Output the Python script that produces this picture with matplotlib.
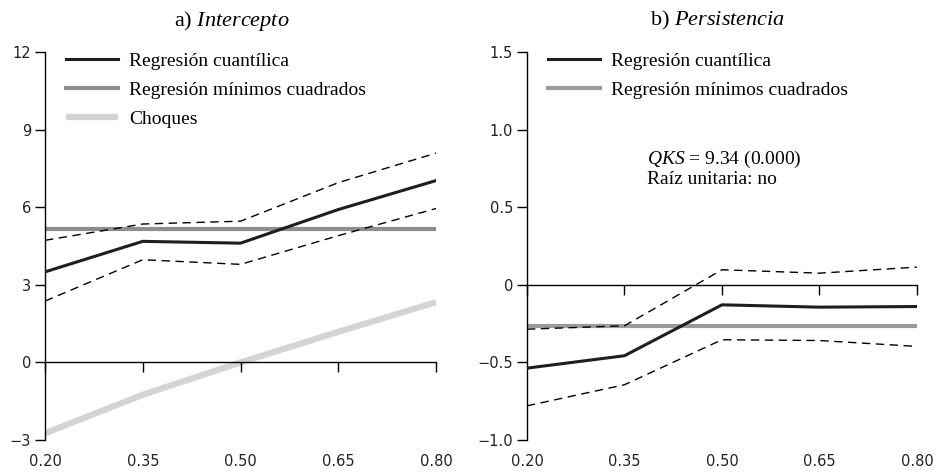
import numpy as np
import matplotlib.pyplot as plt

plt.rcParams['mathtext.fontset'] = 'custom'
plt.rcParams['mathtext.rm'] = 'Liberation Serif'
plt.rcParams['mathtext.it'] = 'Liberation Serif:italic'

# cuantiles
tau = [0.20, 0.35, 0.50, 0.65, 0.80]
tick_labels = ['0.20', '0.35', '0.50', '0.65', '0.80']

# a) Intercepto
int_qr = [3.50, 4.68, 4.61, 5.91, 7.03]
int_hi = [4.72, 5.35, 5.46, 6.95, 8.09]
int_lo = [2.37, 3.97, 3.79, 4.90, 5.95]
int_ols = 5.17
choques = [-2.74, -1.25, 0.0, 1.18, 2.33]

# b) Persistencia
per_qr = [-0.537, -0.457, -0.129, -0.144, -0.140]
per_hi = [-0.286, -0.264, 0.097, 0.075, 0.114]
per_lo = [-0.780, -0.644, -0.354, -0.359, -0.397]
per_ols = -0.268

fig = plt.figure(figsize=(9.4, 4.72), dpi=100)
ax1 = fig.add_axes([0.0479, 0.0678, 0.416, 0.822])
ax2 = fig.add_axes([0.5606, 0.0678, 0.4149, 0.822])

serif = 'Liberation Serif'
sans = 'DejaVu Sans'
dash = (0, (6, 4))


def style(ax, ylim, yticks, ylabels):
    ax.set_xlim(tau[0], tau[-1])
    ax.set_ylim(*ylim)
    ax.spines['top'].set_visible(False)
    ax.spines['right'].set_visible(False)
    ax.spines['bottom'].set_position(('data', 0))
    ax.spines['left'].set_linewidth(1.0)
    ax.spines['bottom'].set_linewidth(1.0)
    ax.set_xticks(tau)
    ax.tick_params(axis='x', direction='out', length=7, width=1, labelbottom=False)
    ax.set_yticks(yticks)
    ax.set_yticklabels(ylabels, fontfamily=sans, fontsize=10.5, color='#222222')
    ax.tick_params(axis='y', direction='out', length=7, width=1, pad=3)
    # etiquetas del eje x abajo
    sec = ax.secondary_xaxis('bottom')
    sec.set_xticks(tau)
    sec.set_xticklabels(tick_labels, fontfamily=sans, fontsize=10.5, color='#222222')
    sec.tick_params(length=0, pad=10)
    sec.spines['bottom'].set_visible(False)


leg_kw = dict(loc='upper left', bbox_to_anchor=(0.008, 1.045), frameon=False,
              handlelength=2.7, handletextpad=0.55, labelspacing=0.6,
              prop={'family': serif, 'size': 14})

# panel a
ax1.plot(tau, choques, color='#d4d4d4', lw=4.5, solid_capstyle='butt', label='Choques', zorder=1)
ax1.axhline(int_ols, color='#8e8e8e', lw=3, label='Regresión mínimos cuadrados', zorder=2)
ax1.plot(tau, int_hi, color='black', lw=1, ls=dash, zorder=3)
ax1.plot(tau, int_lo, color='black', lw=1, ls=dash, zorder=3)
ax1.plot(tau, int_qr, color='#1e1e1e', lw=2.2, label='Regresión cuantílica', zorder=4)
style(ax1, (-3, 12), [-3, 0, 3, 6, 9, 12], ['\u22123', '0', '3', '6', '9', '12'])
h, l = ax1.get_legend_handles_labels()
order = [2, 1, 0]
ax1.legend([h[i] for i in order], [l[i] for i in order], **leg_kw)
ax1.set_title(r'a) $\mathit{Intercepto}$', fontfamily=serif, fontsize=16, pad=19, x=0.477)

# panel b
ax2.axhline(per_ols, color='#9a9a9a', lw=3, label='Regresión mínimos cuadrados', zorder=2)
ax2.plot(tau, per_hi, color='black', lw=1, ls=dash, zorder=3)
ax2.plot(tau, per_lo, color='black', lw=1, ls=dash, zorder=3)
ax2.plot(tau, per_qr, color='#1e1e1e', lw=2.2, label='Regresión cuantílica', zorder=4)
style(ax2, (-1.0, 1.5), [-1.0, -0.5, 0, 0.5, 1.0, 1.5], ['\u22121.0', '\u22120.5', '0', '0.5', '1.0', '1.5'])
h, l = ax2.get_legend_handles_labels()
ax2.legend([h[1], h[0]], [l[1], l[0]], **leg_kw)
ax2.set_title(r'b) $\mathit{Persistencia}$', fontfamily=serif, fontsize=16, pad=19, x=0.49)
ax2.text(0.308, 0.75, r'$\mathit{QKS}$ = 9.34 (0.000)' + '\nRaíz unitaria: no',
         transform=ax2.transAxes, fontfamily=serif, fontsize=14, va='top', ha='left',
         linespacing=1.05)

fig.savefig('out.png', dpi=100)
